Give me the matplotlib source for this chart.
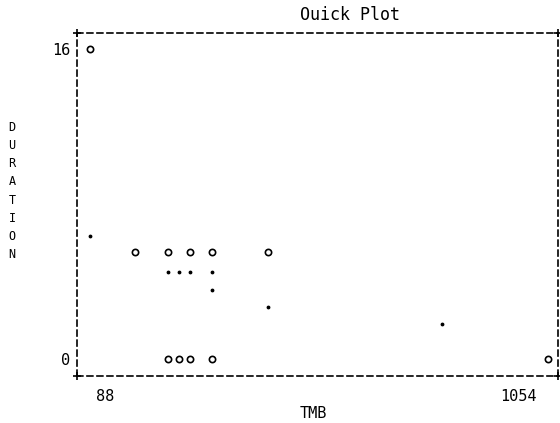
import matplotlib.pyplot as plt
import matplotlib.transforms as mtransforms

# values
circle_tmb = [88, 183, 253, 299, 345, 463, 253, 276, 299, 345, 1054]
circle_dur = [16, 5.5, 5.5, 5.5, 5.5, 5.5, 0, 0, 0, 0, 0]
dot_tmb = [88, 253, 276, 299, 345, 345, 463, 831]
dot_dur = [6.35, 4.5, 4.5, 4.5, 4.5, 3.55, 2.7, 1.8]
x_ticks = [88, 1054]
y_ticks = [0, 16]

plt.rcParams['font.family'] = 'DejaVu Sans Mono'

fig = plt.figure(figsize=(5.6, 4.23), dpi=100)
ax = fig.add_axes([0.1375, 0.111, 0.859, 0.811])

ax.plot(circle_tmb, circle_dur, 'o', ms=4.5, mfc='none', mec='black', mew=1.2, clip_on=False)
ax.plot(dot_tmb, dot_dur, '.', ms=3.5, color='black', clip_on=False)

ax.set_xlim(60.6, 1075)
ax.set_ylim(-0.88, 16.83)

for s in ax.spines.values():
    s.set_linestyle((0, (3.5, 2.5)))
    s.set_linewidth(1.2)
ax.plot([0, 1, 0, 1], [0, 0, 1, 1], '+', ms=6, mew=1.2, color='black',
        transform=ax.transAxes, clip_on=False)

ax.set_xticks(x_ticks)
ax.set_xticklabels([str(v) for v in x_ticks])
ax.set_yticks(y_ticks)
ax.set_yticklabels([str(v) for v in y_ticks])
ax.tick_params(length=0, labelsize=11)
ax.tick_params(axis='x', pad=9)
ax.tick_params(axis='y', pad=5)

# shift x labels where the printer put them
shifts = [15, -30]
for lab, dx in zip(ax.get_xticklabels(), shifts):
    lab.set_transform(lab.get_transform() +
                      mtransforms.ScaledTranslation(dx / 100, 0, fig.dpi_scale_trans))

fig.text(313 / 560, 1 - 413 / 423, 'TMB', ha='center', va='center', fontsize=11)
fig.text(350 / 560, 1 - 15 / 423, 'Ouick Plot', ha='center', va='center', fontsize=12)
fig.text(12 / 560, 1 - 191 / 423, '\n'.join('DURATION'), ha='center', va='center',
         fontsize=8.5, linespacing=1.52)

fig.savefig('out.png', dpi=100)
